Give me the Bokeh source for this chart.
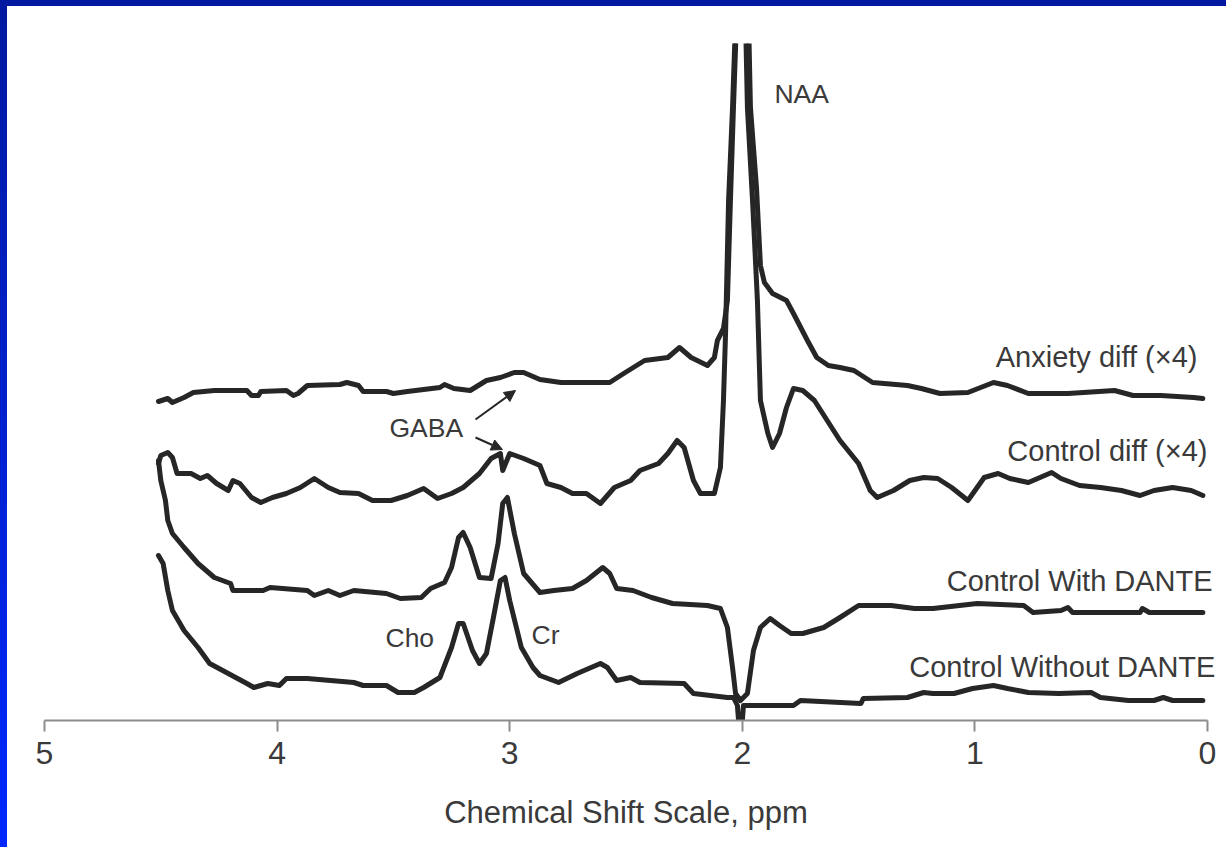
from bokeh.plotting import figure
from bokeh.models import Range1d, FixedTicker, Label, Arrow, NormalHead, Spacer
from bokeh.layouts import column, row
from bokeh.embed import file_html
from bokeh.resources import INLINE

# ---------------- data (chemical shift in ppm, intensity in arbitrary units, traces offset) ----------------
anx_ppm = [4.51, 4.47, 4.45, 4.40, 4.36, 4.27, 4.13, 4.11, 4.08, 4.07, 3.96, 3.93, 3.91, 3.87, 3.73, 3.70,
           3.65, 3.63, 3.53, 3.50, 3.44, 3.30, 3.28, 3.24, 3.17, 3.10, 3.04, 2.98, 2.94, 2.87, 2.78, 2.70,
           2.57, 2.51, 2.42, 2.32, 2.27, 2.22, 2.15, 2.12, 2.107, 2.081, 2.064, 2.051, 2.038, 2.025,
           1.973, 1.965, 1.939, 1.922, 1.905, 1.87, 1.81, 1.78, 1.72, 1.68, 1.63, 1.58, 1.52, 1.44,
           1.29, 1.23, 1.15, 1.03, 0.92, 0.86, 0.77, 0.60, 0.40, 0.32, 0.20, 0.06, 0.02]
anx_int = [319, 322, 318, 323, 328, 330, 330, 325, 325, 329, 330, 325, 327, 335, 336, 338,
           335, 329, 329, 327, 329, 333, 336, 332, 330, 340, 343, 348, 348, 341, 338, 338,
           338, 347, 360, 363, 373, 363, 355, 363, 380, 392, 420, 520, 613, 700,
           700, 613, 533, 455, 438, 427, 420, 407, 380, 363, 355, 353, 350, 338,
           335, 332, 327, 328, 338, 335, 327, 327, 330, 325, 325, 323, 322]

ctl_ppm = [4.51, 4.50, 4.47, 4.45, 4.43, 4.37, 4.33, 4.30, 4.26, 4.21, 4.19, 4.16, 4.11, 4.07, 4.02, 3.96,
           3.90, 3.84, 3.78, 3.73, 3.65, 3.59, 3.51, 3.44, 3.37, 3.31, 3.25, 3.20, 3.13, 3.08, 3.04, 3.03,
           3.00, 2.94, 2.87, 2.84, 2.78, 2.73, 2.67, 2.61, 2.55, 2.48, 2.44, 2.36, 2.32, 2.28, 2.25, 2.21,
           2.18, 2.12, 2.094, 2.081, 2.072, 2.059, 2.042, 2.029, 1.986, 1.978, 1.956, 1.935, 1.922,
           1.89, 1.87, 1.84, 1.81, 1.78, 1.74, 1.69, 1.58, 1.50, 1.45, 1.42, 1.35, 1.28, 1.22, 1.16,
           1.10, 1.03, 0.96, 0.90, 0.85, 0.77, 0.72, 0.67, 0.63, 0.55, 0.46, 0.37, 0.29, 0.23, 0.15,
           0.07, 0.02]
ctl_int = [257, 265, 268, 263, 247, 247, 242, 245, 237, 230, 240, 237, 223, 218, 223, 227,
           233, 242, 233, 228, 227, 220, 220, 225, 232, 222, 227, 233, 247, 262, 267, 250,
           267, 262, 255, 237, 233, 227, 227, 217, 233, 240, 250, 257, 267, 280, 273, 240,
           227, 227, 253, 320, 387, 520, 613, 700, 700, 613, 520, 420, 320,
           287, 273, 287, 313, 332, 330, 320, 280, 257, 230, 223, 230, 240, 243, 242,
           233, 220, 243, 247, 242, 238, 243, 248, 242, 235, 233, 230, 225, 230, 233,
           230, 225]

wd_ppm = [4.51, 4.50, 4.48, 4.47, 4.45, 4.40, 4.34, 4.27, 4.20, 4.19, 4.06, 4.03, 3.87, 3.84, 3.78, 3.73,
          3.67, 3.53, 3.47, 3.38, 3.34, 3.28, 3.25, 3.22, 3.20, 3.17, 3.13, 3.08, 3.05, 3.03, 3.01, 2.98,
          2.94, 2.87, 2.81, 2.73, 2.67, 2.60, 2.57, 2.54, 2.47, 2.39, 2.30, 2.15, 2.094, 2.064, 2.042,
          2.029, 2.008, 1.978, 1.952, 1.922, 1.88, 1.84, 1.79, 1.74, 1.65, 1.58, 1.50, 1.36, 1.26, 1.18,
          0.99, 0.79, 0.75, 0.63, 0.60, 0.58, 0.29, 0.28, 0.25, 0.02]
wd_int = [260, 240, 220, 200, 187, 173, 157, 143, 137, 130, 130, 133, 130, 125, 130, 125,
          130, 127, 122, 123, 132, 138, 153, 183, 188, 173, 143, 142, 177, 217, 223, 187,
          147, 128, 130, 132, 140, 153, 147, 132, 130, 123, 117, 115, 112, 93, 53,
          27, 20, 27, 70, 93, 102, 95, 87, 87, 93, 103, 115, 115, 112, 112,
          117, 115, 108, 110, 113, 108, 108, 112, 108, 108]

wo_ppm = [4.51, 4.49, 4.47, 4.45, 4.40, 4.34, 4.29, 4.21, 4.13, 4.10, 4.04, 3.99, 3.96, 3.87, 3.67, 3.63,
          3.53, 3.48, 3.41, 3.37, 3.30, 3.25, 3.22, 3.20, 3.16, 3.13, 3.10, 3.07, 3.04, 3.02, 3.00, 2.95,
          2.90, 2.87, 2.79, 2.71, 2.61, 2.58, 2.54, 2.48, 2.44, 2.25, 2.21, 2.064, 2.038, 2.021, 2.008,
          1.995, 1.978, 1.78, 1.75, 1.49, 1.48, 1.29, 1.22, 1.18, 1.09, 1.01, 0.92, 0.86, 0.77, 0.64,
          0.50, 0.46, 0.34, 0.23, 0.19, 0.15, 0.02]
wo_int = [165, 157, 130, 110, 90, 73, 57, 47, 37, 33, 37, 35, 42, 42, 38, 35,
          35, 28, 28, 33, 43, 73, 97, 97, 70, 57, 67, 103, 140, 143, 120, 73,
          53, 45, 38, 47, 57, 53, 40, 43, 38, 37, 27, 23, 23, 15, -25,
          15, 15, 15, 20, 17, 22, 23, 28, 27, 27, 32, 35, 32, 28, 27,
          28, 23, 20, 20, 23, 20, 20]

x_ticks = [5, 4, 3, 2, 1, 0]
x_title = "Chemical Shift Scale, ppm"

series_names = ["Anxiety diff (\u00d74)", "Control diff (\u00d74)", "Control With DANTE", "Control Without DANTE"]
name_x = [0.043, 0.0, -0.022, -0.034]
name_y = [364, 270, 140, 54]

peak_names = ["NAA", "GABA", "Cho", "Cr"]
peak_x = [1.862, 3.517, 3.534, 2.906]
peak_y = [627, 293, 83, 86]

# GABA arrows (ppm, intensity)
arrow_x0 = [3.147, 3.147]
arrow_y0 = [301, 283]
arrow_x1 = [2.975, 3.031]
arrow_y1 = [330, 271]

# ---------------- figure ----------------
FONT = "Liberation Sans"
INK = "#262626"
TXT = "#3a3a3a"

p = figure(frame_width=1201, frame_height=677, x_range=Range1d(5.0817, -0.0817), y_range=Range1d(0, 677),
           output_backend="svg", toolbar_location=None, y_axis_location=None,
           min_border_left=18, min_border_right=0, min_border_top=37, min_border_bottom=120,
           background_fill_color="white", border_fill_color="white")
p.outline_line_color = None
p.xgrid.grid_line_color = None
p.ygrid.grid_line_color = None

for xs, ys in [(anx_ppm, anx_int), (ctl_ppm, ctl_int), (wd_ppm, wd_int), (wo_ppm, wo_int)]:
    p.line(xs, ys, line_width=5, line_color=INK, line_join="round", line_cap="round")

ax = p.xaxis[0]
ax.ticker = FixedTicker(ticks=x_ticks)
ax.bounds = (0, 5)
ax.axis_label = x_title
ax.axis_label_text_font = FONT
ax.axis_label_text_font_style = "normal"
ax.axis_label_text_font_size = "31px"
ax.axis_label_text_color = TXT
ax.axis_label_standoff = 28
ax.major_label_text_font = FONT
ax.major_label_text_font_size = "32px"
ax.major_label_text_color = TXT
ax.major_label_standoff = 10
ax.major_tick_out = 11
ax.major_tick_in = 0
ax.minor_tick_line_color = None
ax.axis_line_color = "#8c8c8c"
ax.axis_line_width = 2
ax.major_tick_line_color = "#8c8c8c"
ax.major_tick_line_width = 2

for t, x, y in zip(series_names, name_x, name_y):
    p.add_layout(Label(x=x, y=y, text=t, text_font=FONT, text_font_size="29px",
                       text_color=TXT, text_align="right", text_baseline="alphabetic"))

for t, x, y in zip(peak_names, peak_x, peak_y):
    p.add_layout(Label(x=x, y=y, text=t, text_font=FONT, text_font_size="26.5px",
                       text_color=TXT, text_align="left", text_baseline="alphabetic"))

for x0, y0, x1, y1 in zip(arrow_x0, arrow_y0, arrow_x1, arrow_y1):
    p.add_layout(Arrow(end=NormalHead(size=11, fill_color=INK, line_color=INK),
                       x_start=x0, y_start=y0, x_end=x1, y_end=y1,
                       line_color=INK, line_width=2))

# slide frame: dark-blue strips on top and left edges
top_strip = Spacer(width=1226, height=6, styles={"background": "#0019a0"})
left_strip = Spacer(width=7, height=841, styles={"background": "linear-gradient(#0019a0, #0028ff)"})
page = column(top_strip, row(left_strip, p, spacing=0), spacing=0)

open("out.html", "w").write(file_html(page, INLINE))
